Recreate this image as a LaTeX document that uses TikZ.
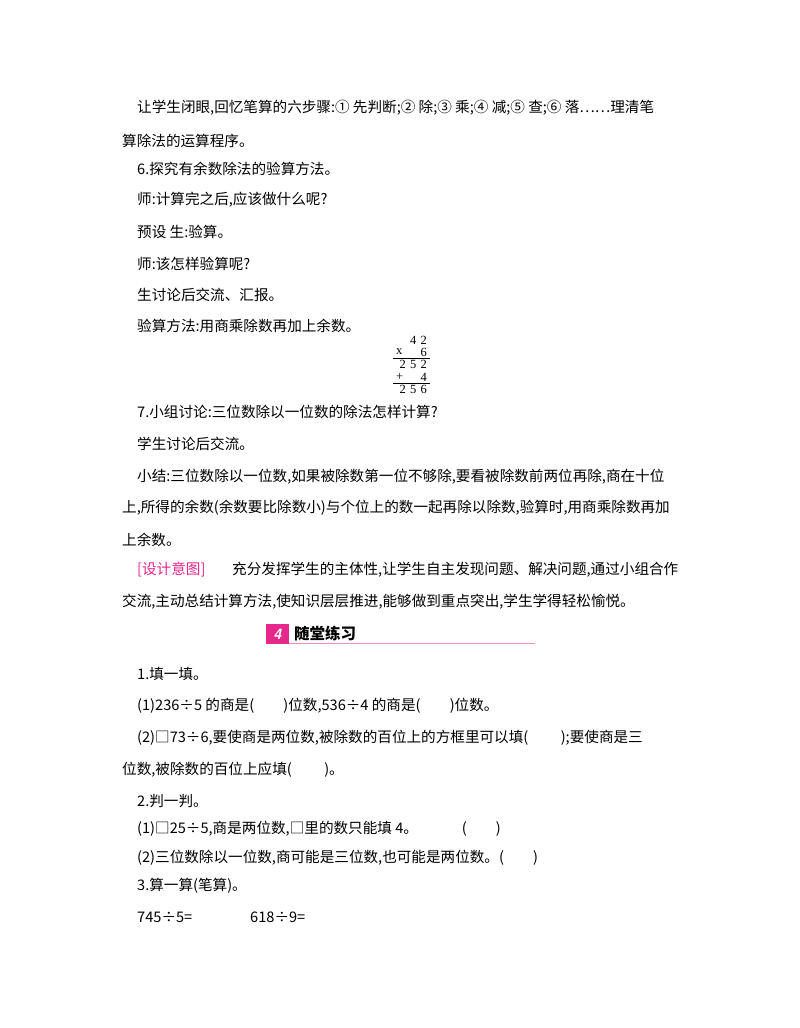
\documentclass[tikz,border=0pt]{standalone}
\usepackage{fontspec}
\setmainfont{Noto Sans CJK SC}
\newfontfamily\numf{Liberation Serif}
\definecolor{pk}{RGB}{230,40,140}
\definecolor{lpk}{RGB}{240,140,190}
\begin{document}
\begin{tikzpicture}[x=1pt,y=-1pt,
  t/.style={anchor=west,inner sep=0,font=\fontsize{14.6}{15}\selectfont},
  c/.style={anchor=east,inner sep=0,font=\numf\fontsize{12.5}{13}\selectfont}]
\useasboundingbox[fill=white] (0,0) rectangle (800,1028);
\node[t] (l1) at (137,108) {让学生闭眼,回忆笔算的六步骤:① 先判断;② 除;③ 乘;④ 减;⑤ 查;⑥ 落……理清笔};
\node[t] (l2) at (122,141) {算除法的运算程序。};
\node[t] (l3) at (137,169) {6.探究有余数除法的验算方法。};
\node[t] (l4) at (137,200) {师:计算完之后,应该做什么呢?};
\node[t] (l5) at (137,232) {预设\ 生:验算。};
\node[t] (l6) at (137,264) {师:该怎样验算呢?};
\node[t] (l7) at (137,295) {生讨论后交流、汇报。};
\node[t] (l8) at (137,326) {验算方法:用商乘除数再加上余数。};
\node[c] (a1) at (427,340) {4\,\,2};
\node[c] (a2) at (427,352) {6};
\node[c,anchor=west] (ax) at (396,352) {x};
\node[c] (a3) at (427,364) {2\,\,5\,\,2};
\node[c] (a4) at (427,377) {4};
\node[c,anchor=west] (ap) at (396,377) {+};
\node[c] (a5) at (427,389) {2\,\,5\,\,6};
\draw[line width=0.6pt] (393,358) -- (430,358);
\draw[line width=0.6pt] (393,383) -- (430,383);
\node[t] (l9) at (137,412) {7.小组讨论:三位数除以一位数的除法怎样计算?};
\node[t] (l10) at (137,444) {学生讨论后交流。};
\node[t] (l11) at (137,477) {小结:三位数除以一位数,如果被除数第一位不够除,要看被除数前两位再除,商在十位};
\node[t] (l12) at (122,508) {上,所得的余数(余数要比除数小)与个位上的数一起再除以除数,验算时,用商乘除数再加};
\node[t] (l13) at (122,540) {上余数。};
\node[t,text=pk] (l14) at (137,570) {[设计意图]};
\node[t] (l14b) at (232,570) {充分发挥学生的主体性,让学生自主发现问题、解决问题,通过小组合作};
\node[t] (l15) at (122,602) {交流,主动总结计算方法,使知识层层推进,能够做到重点突出,学生学得轻松愉悦。};
\fill[pk] (266,624) rectangle (289,644);
\node[inner sep=0,text=white,font=\sffamily\bfseries\itshape\fontsize{15}{15}\selectfont] (n4) at (277.5,634) {4};
\node[t,font=\bfseries\fontsize{15.5}{16}\selectfont] (hd) at (294,634) {随堂练习};
\draw[lpk,line width=0.8pt] (289,643.5) -- (535,643.5);
\node[t] (p1) at (137,674) {1.填一填。};
\node[t] (p2) at (137,706) {(1)236÷5 的商是(\qquad)位数,536÷4 的商是(\qquad)位数。};
\node[t] (p3) at (137,738) {(2)□73÷6,要使商是两位数,被除数的百位上的方框里可以填(\qquad\ );要使商是三};
\node[t] (p4) at (122,770) {位数,被除数的百位上应填(\qquad\ )。};
\node[t] (p5) at (137,801) {2.判一判。};
\node[t] (p6) at (137,829) {(1)□25÷5,商是两位数,□里的数只能填 4。\qquad\quad(\qquad)};
\node[t] (p7) at (137,858) {(2)三位数除以一位数,商可能是三位数,也可能是两位数。(\qquad)};
\node[t] (p8) at (137,886) {3.算一算(笔算)。};
\node[t] (p9) at (137,917) {745÷5=};
\node[t] (p10) at (250,917) {618÷9=};
\end{tikzpicture}
\end{document}
